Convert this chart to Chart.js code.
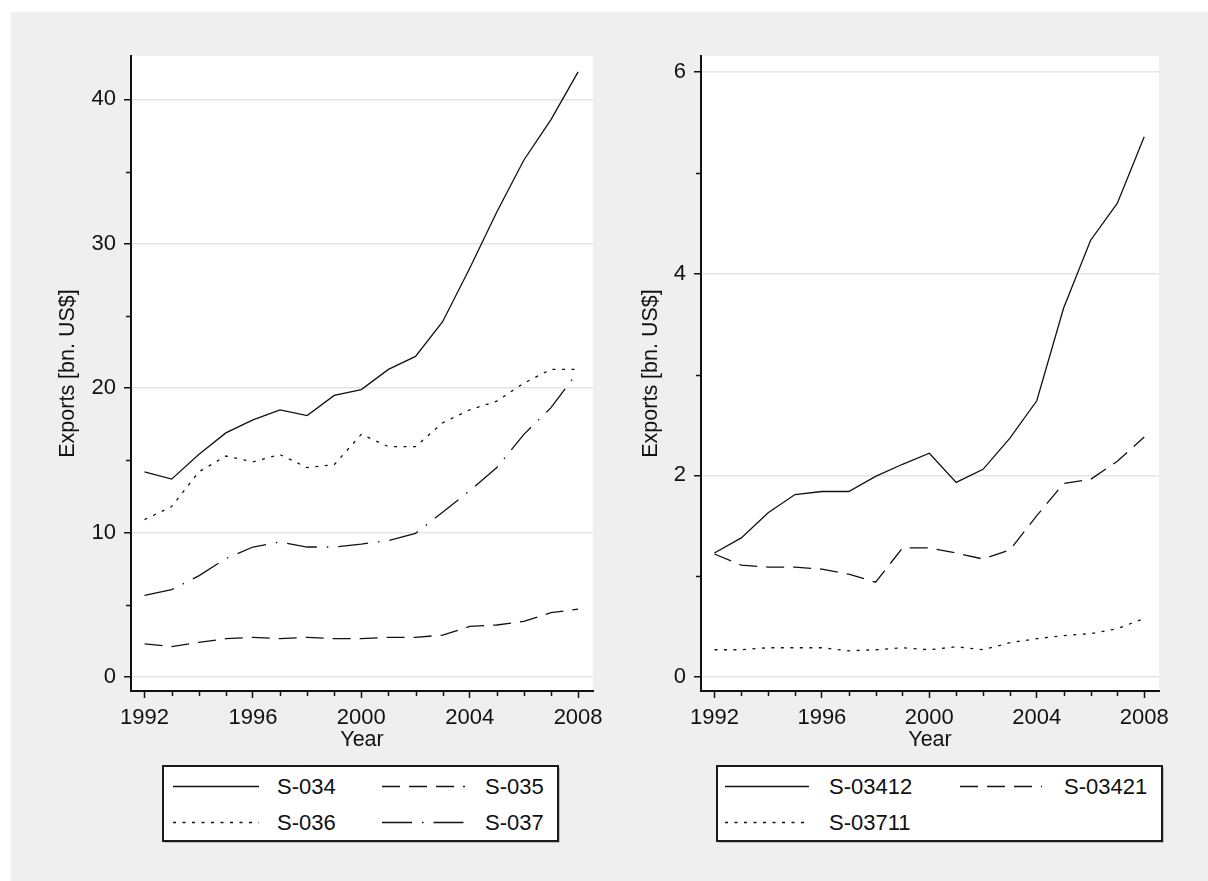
<!DOCTYPE html>
<html><head><meta charset="utf-8">
<script src="https://cdn.jsdelivr.net/npm/chart.js@4.4.1/dist/chart.umd.min.js"></script>
<style>
html,body{margin:0;padding:0;background:#fff;width:1208px;height:881px;overflow:hidden;position:relative;}
#bg{position:absolute;left:11px;top:12px;width:1197px;height:869px;background:#efefef;}
canvas{position:absolute;top:0;}
#c1{left:0}
#c2{left:604px}
#leg{position:absolute;left:0;top:0;}
</style></head><body>
<div id="bg"></div>
<canvas id="c1" width="604" height="753"></canvas>
<canvas id="c2" width="604" height="753"></canvas>
<svg id="leg" width="1208" height="881" xmlns="http://www.w3.org/2000/svg"></svg>
<script>
// ---- data ----
const years = [1992,1993,1994,1995,1996,1997,1998,1999,2000,2001,2002,2003,2004,2005,2006,2007,2008];
const s034 = [14.2,13.7,15.4,16.9,17.8,18.5,18.1,19.5,19.9,21.3,22.2,24.6,28.3,32.2,35.8,38.6,41.9];
const s035 = [2.3,2.1,2.4,2.65,2.75,2.65,2.75,2.65,2.65,2.75,2.75,2.9,3.5,3.6,3.85,4.45,4.7];
const s036 = [10.9,11.8,14.2,15.3,14.9,15.4,14.5,14.7,16.8,15.95,15.95,17.6,18.5,19.1,20.35,21.3,21.3];
const s037 = [5.65,6.05,7.0,8.2,9.0,9.35,9.0,9.0,9.2,9.45,9.95,11.4,12.9,14.5,16.8,18.65,21.15];
const s03412 = [1.23,1.38,1.63,1.81,1.84,1.84,1.99,2.11,2.22,1.93,2.06,2.37,2.74,3.66,4.33,4.70,5.36];
const s03421 = [1.22,1.11,1.09,1.09,1.07,1.02,0.94,1.28,1.28,1.23,1.17,1.26,1.60,1.92,1.96,2.14,2.38];
const s03711 = [0.27,0.27,0.29,0.29,0.29,0.26,0.27,0.29,0.27,0.30,0.27,0.34,0.38,0.41,0.43,0.48,0.58];
const xTicks = [1992,1996,2000,2004,2008];
const xMinor = [1993,1994,1995,1997,1998,1999,2001,2002,2003,2005,2006,2007];
const leftYTicks = [0,10,20,30,40];
const leftYMinor = [5,15,25,35];
const rightYTicks = [0,2,4,6];
const rightYMinor = [1,3,5];
const leftNames = ['S-034','S-035','S-036','S-037'];
const rightNames = ['S-03412','S-03421','S-03711'];
const yTitle = 'Exports [bn. US$]';
const xTitle = 'Year';

// ---- styles ----
const SOLID = [], DASH = [18,9], DOT = [3,6.5], LONGDASH = [30,10,1.5,10];
const INK = '#111';
const FAM = '"Liberation Sans", Arial, sans-serif';
const FONT = {family:FAM, size:22};
const TFONT = {family:FAM, size:21.5};

function ds(label, vals, dash){
  return {label, data: years.map((y,i)=>({x:y, y:vals[i]})), borderColor:INK, borderWidth:1.3,
    borderDash:dash, pointRadius:0, tension:0, fill:false};
}

const plotBg = {
  id:'plotBg',
  beforeDraw(chart){
    const a = chart.chartArea, ctx = chart.ctx;
    ctx.save(); ctx.fillStyle = '#fff'; ctx.fillRect(a.left, a.top, a.right - a.left, a.bottom - a.top); ctx.restore();
  }
};
const minorTicks = {
  id:'minorTicks',
  afterDraw(chart, args, opts){
    const ctx = chart.ctx, xs = chart.scales.x, ys = chart.scales.y, a = chart.chartArea;
    ctx.save(); ctx.strokeStyle = INK; ctx.lineWidth = 1.5;
    ctx.beginPath();
    (opts.x||[]).forEach(v=>{ const px = Math.round(xs.getPixelForValue(v))+0.5; ctx.moveTo(px, a.bottom); ctx.lineTo(px, a.bottom+5); });
    (opts.y||[]).forEach(v=>{ const py = Math.round(ys.getPixelForValue(v))+0.5; ctx.moveTo(a.left-5, py); ctx.lineTo(a.left, py); });
    ctx.stroke(); ctx.restore();
  }
};

function opts(c){
  return {
    responsive:false, animation:false, devicePixelRatio:1,
    layout:{padding:{left:c.padL, top:56, right:c.padR, bottom:0}},
    plugins:{legend:{display:false}, tooltip:{enabled:false}, minorTicks:{x:xMinor, y:c.yMinor}},
    scales:{
      x:{type:'linear', min:1991.5, max:2008.55,
        afterBuildTicks:s=>{ s.ticks = xTicks.map(v=>({value:v})); },
        afterFit:s=>{ s.height = 62; s.paddingLeft = 0; s.paddingRight = 0; },
        ticks:{font:FONT, color:INK, padding:7, maxRotation:0, autoSkip:false, callback:v=>String(v)},
        grid:{drawOnChartArea:false, tickLength:7, tickColor:INK, tickWidth:1.5},
        border:{color:INK, width:2},
        title:{display:true, text:xTitle, font:TFONT, color:INK, padding:0}},
      y:{type:'linear', min:c.yMin, max:c.yMax,
        afterBuildTicks:s=>{ s.ticks = c.yTicks.map(v=>({value:v})); },
        afterFit:s=>{ s.width = c.yW; s.paddingTop = 0; s.paddingBottom = 0; },
        ticks:{font:FONT, color:INK, padding:8, callback:v=>String(v)},
        grid:{color:'#e4e4e4', lineWidth:1.5, tickLength:7, tickColor:INK, tickWidth:1.5},
        border:{color:INK, width:2},
        title:{display:true, text:yTitle, font:TFONT, color:INK, padding:0}}
    }
  };
}

new Chart(document.getElementById('c1'), {
  type:'line',
  data:{datasets:[ds(leftNames[0], s034, SOLID), ds(leftNames[1], s035, DASH), ds(leftNames[2], s036, DOT), ds(leftNames[3], s037, LONGDASH)]},
  options: opts({padL:55, padR:11, yW:76, yMin:-0.97, yMax:43.0, yTicks:leftYTicks, yMinor:leftYMinor}),
  plugins:[plotBg, minorTicks]
});
new Chart(document.getElementById('c2'), {
  type:'line',
  data:{datasets:[ds(rightNames[0], s03412, SOLID), ds(rightNames[1], s03421, DASH), ds(rightNames[2], s03711, DOT)]},
  options: opts({padL:34, padR:49, yW:63, yMin:-0.139, yMax:6.16, yTicks:rightYTicks, yMinor:rightYMinor}),
  plugins:[plotBg, minorTicks]
});

// ---- legends ----
const svg = document.getElementById('leg');
const NS = 'http://www.w3.org/2000/svg';
function el(tag, attrs, text){ const e = document.createElementNS(NS, tag); for (const k in attrs) e.setAttribute(k, attrs[k]); if (text) e.textContent = text; svg.appendChild(e); return e; }
function legend(box, items, cols){
  el('rect',{x:box.x+1.5, y:box.y+1.5, width:box.w, height:box.h, fill:'#8a8a8a'});
  el('rect',{x:box.x, y:box.y, width:box.w, height:box.h, fill:'#fff', stroke:'#1a1a1a', 'stroke-width':2});
  items.forEach((it,i)=>{
    const col = cols[i%2], rowY = box.y + (i<2 ? 20 : 56);
    el('line',{x1:box.x+col.l0, x2:box.x+col.l1, y1:rowY+0.5, y2:rowY+0.5, stroke:INK, 'stroke-width':1.6,
      'stroke-dasharray': it.dash.length ? it.dash.join(' ') : 'none'});
    el('text',{x:box.x+col.t, y:rowY, 'dominant-baseline':'central', 'font-family':FAM, 'font-size':22, fill:INK}, it.name);
  });
}
legend({x:163, y:766, w:395, h:75},
  [{name:leftNames[0],dash:SOLID},{name:leftNames[1],dash:DASH},{name:leftNames[2],dash:DOT},{name:leftNames[3],dash:LONGDASH}],
  [{l0:10,l1:96,t:114},{l0:219,l1:302,t:322}]);
legend({x:717, y:766, w:445, h:75},
  [{name:rightNames[0],dash:SOLID},{name:rightNames[1],dash:DASH},{name:rightNames[2],dash:DOT}],
  [{l0:8,l1:92,t:112},{l0:243,l1:325,t:347}]);
</script>
</body></html>
